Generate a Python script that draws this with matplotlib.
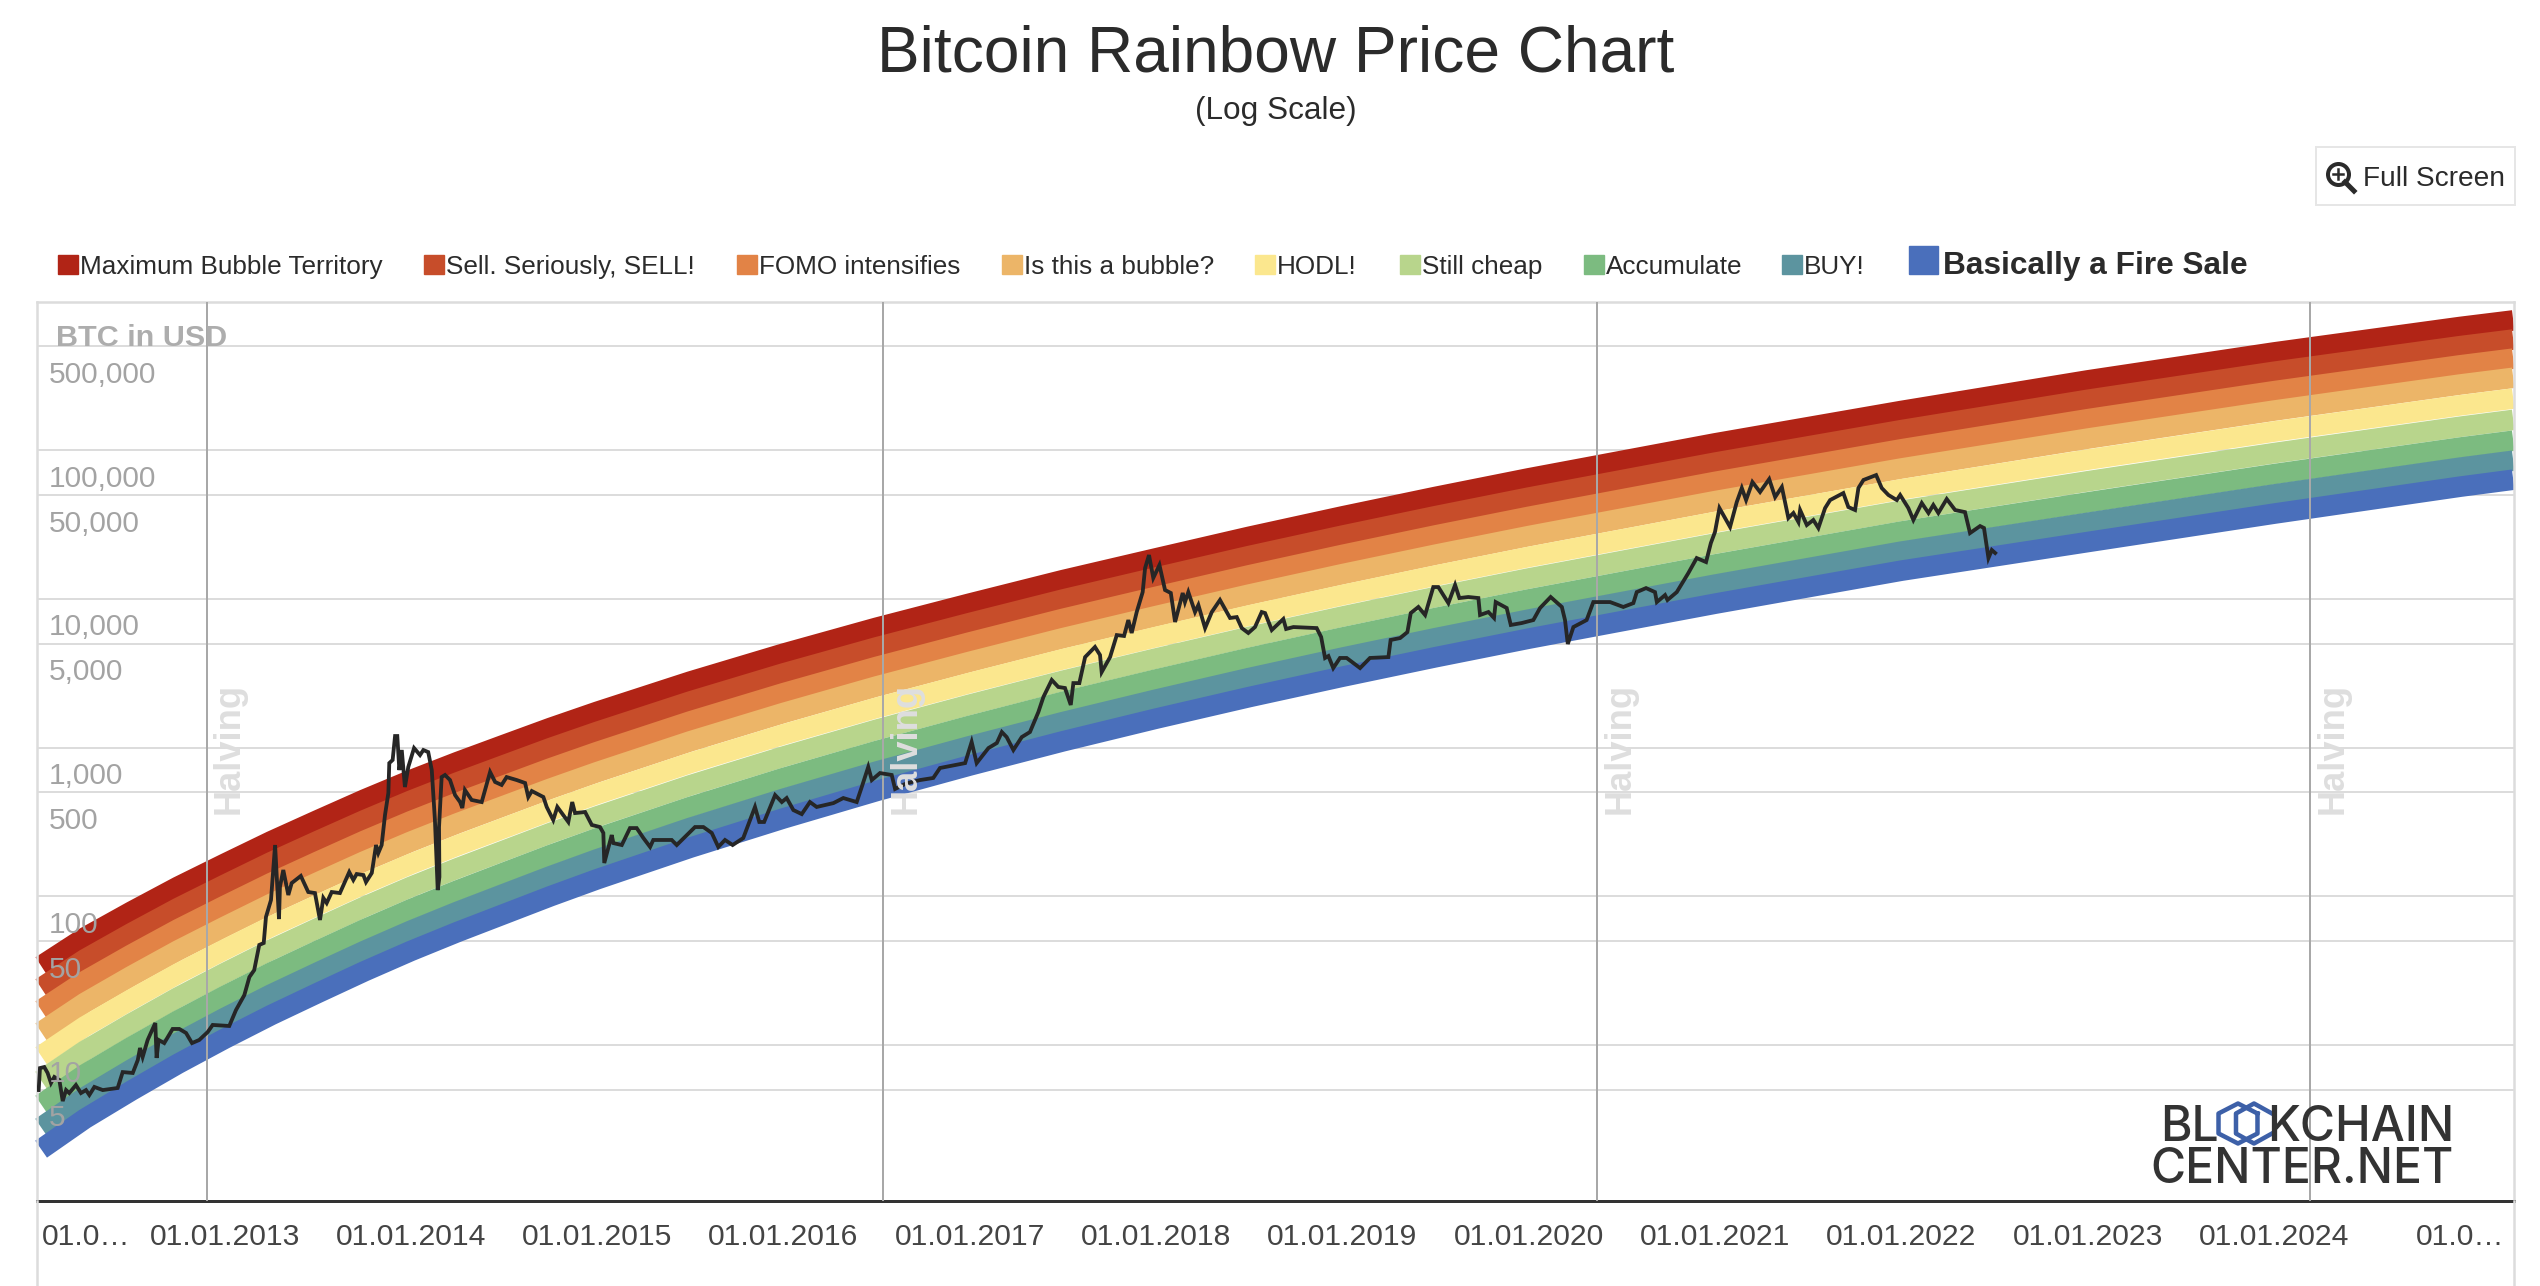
import numpy as np
import matplotlib
matplotlib.use('Agg')
import matplotlib.pyplot as plt
from matplotlib.lines import Line2D
from matplotlib.patches import Rectangle
from matplotlib.ticker import NullLocator

plt.rcParams['font.family'] = ['Liberation Sans', 'DejaVu Sans']

# Values. Years are decimal years, prices are log10(USD)
band_names = ["Maximum Bubble Territory", "Sell. Seriously, SELL!", "FOMO intensifies",
              "Is this a bubble?", "HODL!", "Still cheap", "Accumulate", "BUY!",
              "Basically a Fire Sale"]
band_colors = ["#b12416", "#c74d2a", "#e28346", "#ecb568", "#fbe78e",
               "#b8d58c", "#7cbb80", "#5c949f", "#4a6fbb"]

band_years = [2012.015, 2012.25, 2012.5, 2012.75, 2013, 2013.25, 2013.5, 2013.75, 2014, 2014.25, 2014.5, 2014.75,
              2015, 2015.5, 2016, 2016.5, 2017, 2017.5, 2018, 2018.5, 2019, 2019.5,
              2020, 2021, 2022, 2023, 2024, 2025, 2025.285]
edge_0 = [1.605, 1.795, 1.968, 2.134, 2.288, 2.439, 2.580, 2.719, 2.849, 2.970, 3.085, 3.199,
          3.307, 3.510, 3.697, 3.871, 4.033, 4.190, 4.336, 4.481, 4.618, 4.749,
          4.874, 5.109, 5.327, 5.533, 5.721, 5.892, 5.936]
edge_1 = [1.460, 1.652, 1.827, 1.995, 2.150, 2.302, 2.444, 2.583, 2.714, 2.836, 2.952, 3.067,
          3.175, 3.379, 3.567, 3.742, 3.905, 4.063, 4.210, 4.355, 4.492, 4.623,
          4.748, 4.983, 5.201, 5.406, 5.594, 5.766, 5.810]
edge_2 = [1.309, 1.502, 1.679, 1.848, 2.005, 2.158, 2.301, 2.441, 2.573, 2.696, 2.812, 2.928,
          3.037, 3.242, 3.431, 3.607, 3.771, 3.929, 4.077, 4.222, 4.359, 4.490,
          4.615, 4.850, 5.069, 5.272, 5.461, 5.634, 5.679]
edge_3 = [1.164, 1.359, 1.538, 1.709, 1.867, 2.021, 2.165, 2.306, 2.438, 2.561, 2.678, 2.794,
          2.904, 3.111, 3.301, 3.479, 3.644, 3.803, 3.951, 4.096, 4.233, 4.364,
          4.489, 4.724, 4.943, 5.145, 5.333, 5.508, 5.553]
edge_4 = [1.012, 1.209, 1.390, 1.563, 1.723, 1.878, 2.022, 2.164, 2.297, 2.421, 2.538, 2.655,
          2.766, 2.974, 3.165, 3.344, 3.510, 3.669, 3.818, 3.963, 4.100, 4.231,
          4.356, 4.591, 4.811, 5.011, 5.200, 5.376, 5.421]
edge_5 = [0.843, 1.042, 1.224, 1.399, 1.561, 1.717, 1.862, 2.005, 2.139, 2.264, 2.382, 2.500,
          2.611, 2.820, 3.012, 3.192, 3.360, 3.520, 3.670, 3.815, 3.952, 4.083,
          4.208, 4.443, 4.663, 4.862, 5.051, 5.228, 5.274]
edge_6 = [0.682, 0.883, 1.067, 1.243, 1.407, 1.564, 1.710, 1.854, 1.989, 2.114, 2.233, 2.352,
          2.464, 2.674, 2.868, 3.049, 3.218, 3.379, 3.529, 3.674, 3.811, 3.942,
          4.067, 4.302, 4.523, 4.720, 4.910, 5.088, 5.134]
edge_7 = [0.521, 0.723, 0.909, 1.087, 1.253, 1.411, 1.558, 1.702, 1.838, 1.965, 2.085, 2.204,
          2.317, 2.528, 2.723, 2.905, 3.075, 3.237, 3.388, 3.533, 3.670, 3.801,
          3.926, 4.161, 4.383, 4.578, 4.768, 4.948, 4.994]
edge_8 = [0.372, 0.576, 0.764, 0.944, 1.111, 1.270, 1.418, 1.563, 1.700, 1.827, 1.947, 2.067,
          2.181, 2.393, 2.589, 2.773, 2.944, 3.106, 3.258, 3.403, 3.540, 3.671,
          3.796, 4.031, 4.253, 4.446, 4.637, 4.818, 4.865]
edge_9 = [0.227, 0.433, 0.623, 0.804, 0.973, 1.133, 1.282, 1.428, 1.565, 1.693, 1.814, 1.935,
          2.049, 2.262, 2.459, 2.644, 2.816, 2.979, 3.132, 3.277, 3.414, 3.545,
          3.670, 3.905, 4.127, 4.319, 4.510, 4.692, 4.739]
band_edges = [edge_0, edge_1, edge_2, edge_3, edge_4, edge_5, edge_6, edge_7, edge_8, edge_9]

price_years = [
    2012.002, 2012.009, 2012.032, 2012.050, 2012.068, 2012.086, 2012.113, 2012.131, 2012.149, 2012.166,
    2012.202, 2012.229, 2012.256, 2012.274, 2012.301, 2012.346, 2012.426, 2012.453, 2012.507, 2012.534,
    2012.546, 2012.560, 2012.587, 2012.628, 2012.635, 2012.646, 2012.676, 2012.721, 2012.757, 2012.793,
    2012.825, 2012.864, 2012.909, 2012.936, 2013.025, 2013.061, 2013.106, 2013.133, 2013.159, 2013.186,
    2013.210, 2013.222, 2013.249, 2013.271, 2013.280, 2013.292, 2013.297, 2013.315, 2013.342, 2013.360,
    2013.409, 2013.449, 2013.485, 2013.512, 2013.530, 2013.548, 2013.575, 2013.619, 2013.669, 2013.691,
    2013.709, 2013.745, 2013.759, 2013.790, 2013.813, 2013.825, 2013.843, 2013.861, 2013.879, 2013.884,
    2013.902, 2013.915, 2013.927, 2013.938, 2013.951, 2013.968, 2013.986, 2014.017, 2014.049, 2014.067,
    2014.093, 2014.112, 2014.129, 2014.144, 2014.153, 2014.151, 2014.165, 2014.183, 2014.210, 2014.237,
    2014.264, 2014.276, 2014.290, 2014.326, 2014.380, 2014.425, 2014.452, 2014.487, 2014.514, 2014.568,
    2014.613, 2014.630, 2014.649, 2014.711, 2014.729, 2014.764, 2014.786, 2014.845, 2014.866, 2014.881,
    2014.935, 2014.971, 2015.015, 2015.033, 2015.038, 2015.078, 2015.087, 2015.132, 2015.176, 2015.212,
    2015.248, 2015.284, 2015.301, 2015.400, 2015.427, 2015.525, 2015.570, 2015.615, 2015.650, 2015.686,
    2015.727, 2015.784, 2015.847, 2015.870, 2015.896, 2015.955, 2015.991, 2016.017, 2016.053, 2016.098,
    2016.142, 2016.178, 2016.268, 2016.321, 2016.393, 2016.420, 2016.455, 2016.474, 2016.518, 2016.581,
    2016.599, 2016.652, 2016.690, 2016.733, 2016.804, 2016.840, 2016.975, 2017.010, 2017.037, 2017.100,
    2017.145, 2017.172, 2017.198, 2017.234, 2017.279, 2017.323, 2017.368, 2017.395, 2017.440, 2017.475,
    2017.511, 2017.542, 2017.556, 2017.588, 2017.619, 2017.672, 2017.699, 2017.708, 2017.753, 2017.789,
    2017.828, 2017.851, 2017.869, 2017.896, 2017.928, 2017.941, 2017.962, 2017.985, 2018.018, 2018.048,
    2018.079, 2018.102, 2018.143, 2018.155, 2018.173, 2018.209, 2018.227, 2018.263, 2018.299, 2018.343,
    2018.397, 2018.433, 2018.460, 2018.495, 2018.531, 2018.567, 2018.585, 2018.621, 2018.683, 2018.698,
    2018.737, 2018.862, 2018.886, 2018.907, 2018.925, 2018.951, 2018.987, 2019.023, 2019.095, 2019.148,
    2019.247, 2019.259, 2019.310, 2019.349, 2019.367, 2019.408, 2019.444, 2019.488, 2019.515, 2019.569,
    2019.605, 2019.628, 2019.676, 2019.730, 2019.739, 2019.784, 2019.814, 2019.823, 2019.882, 2019.904,
    2019.963, 2020.025, 2020.061, 2020.118, 2020.178, 2020.195, 2020.210, 2020.240, 2020.311, 2020.347,
    2020.374, 2020.437, 2020.508, 2020.562, 2020.580, 2020.630, 2020.678, 2020.688, 2020.732, 2020.745,
    2020.795, 2020.857, 2020.902, 2020.952, 2020.978, 2021.000, 2021.024, 2021.054, 2021.081, 2021.117,
    2021.144, 2021.167, 2021.201, 2021.242, 2021.291, 2021.323, 2021.359, 2021.394, 2021.421, 2021.448,
    2021.457, 2021.493, 2021.528, 2021.555, 2021.591, 2021.618, 2021.689, 2021.716, 2021.752, 2021.770,
    2021.797, 2021.865, 2021.895, 2021.931, 2021.976, 2021.994, 2022.038, 2022.065, 2022.110, 2022.146,
    2022.172, 2022.199, 2022.244, 2022.289, 2022.342, 2022.369, 2022.423, 2022.444, 2022.468, 2022.486,
    2022.504]
price_log10 = [
    0.697, 0.845, 0.852, 0.812, 0.744, 0.785, 0.765, 0.623, 0.697, 0.677,
    0.731, 0.677, 0.697, 0.664, 0.718, 0.697, 0.711, 0.818, 0.812, 0.899,
    0.980, 0.919, 1.034, 1.148, 0.913, 1.034, 1.013, 1.108, 1.108, 1.081,
    1.013, 1.034, 1.087, 1.135, 1.128, 1.235, 1.336, 1.457, 1.504, 1.673,
    1.686, 1.861, 1.975, 2.345, 2.130, 1.847, 2.063, 2.177, 2.009, 2.089,
    2.137, 2.029, 2.022, 1.841, 1.989, 1.955, 2.029, 2.022, 2.163, 2.110,
    2.150, 2.143, 2.096, 2.157, 2.345, 2.291, 2.345, 2.547, 2.695, 2.896,
    2.917, 3.078, 3.078, 2.849, 2.984, 2.735, 2.870, 2.997, 2.950, 2.984,
    2.970, 2.849, 2.513, 2.042, 2.130, 2.466, 2.802, 2.816, 2.782, 2.681,
    2.634, 2.594, 2.715, 2.648, 2.634, 2.836, 2.769, 2.749, 2.802, 2.782,
    2.762, 2.668, 2.708, 2.668, 2.601, 2.513, 2.601, 2.500, 2.634, 2.560,
    2.567, 2.480, 2.466, 2.426, 2.224, 2.412, 2.358, 2.345, 2.459, 2.459,
    2.392, 2.332, 2.379, 2.379, 2.345, 2.466, 2.466, 2.426, 2.332, 2.379,
    2.345, 2.392, 2.601, 2.500, 2.500, 2.681, 2.634, 2.661, 2.580, 2.553,
    2.634, 2.601, 2.627, 2.661, 2.634, 2.735, 2.870, 2.782, 2.829, 2.816,
    2.722, 2.755, 2.769, 2.782, 2.796, 2.863, 2.896, 3.038, 2.896, 2.997,
    3.031, 3.105, 3.071, 2.984, 3.071, 3.105, 3.239, 3.340, 3.455, 3.408,
    3.401, 3.287, 3.434, 3.434, 3.609, 3.677, 3.623, 3.508, 3.609, 3.757,
    3.751, 3.858, 3.771, 3.912, 4.046, 4.208, 4.295, 4.141, 4.228, 4.060,
    4.040, 3.845, 4.040, 3.979, 4.046, 3.912, 3.959, 3.804, 3.912, 3.993,
    3.872, 3.878, 3.804, 3.771, 3.811, 3.912, 3.905, 3.791, 3.865, 3.798,
    3.811, 3.804, 3.744, 3.603, 3.616, 3.535, 3.603, 3.603, 3.535, 3.603,
    3.609, 3.724, 3.737, 3.777, 3.905, 3.946, 3.892, 4.080, 4.080, 3.972,
    4.094, 4.006, 4.013, 4.006, 3.892, 3.912, 3.872, 3.979, 3.939, 3.825,
    3.838, 3.858, 3.939, 4.013, 3.946, 3.858, 3.697, 3.811, 3.858, 3.979,
    3.979, 3.979, 3.946, 3.972, 4.046, 4.073, 4.046, 3.979, 4.026, 3.993,
    4.046, 4.174, 4.275, 4.248, 4.376, 4.450, 4.611, 4.544, 4.484, 4.652,
    4.746, 4.665, 4.786, 4.719, 4.806, 4.685, 4.753, 4.544, 4.578, 4.517,
    4.598, 4.497, 4.531, 4.477, 4.611, 4.665, 4.712, 4.618, 4.598, 4.746,
    4.800, 4.833, 4.746, 4.699, 4.665, 4.699, 4.611, 4.531, 4.645, 4.578,
    4.632, 4.578, 4.672, 4.598, 4.584, 4.443, 4.490, 4.477, 4.275, 4.329,
    4.309]

halving_years = [2012.903, 2016.536, 2020.367, 2024.195]
y_ticks = [5, 10, 50, 100, 500, 1000, 5000, 10000, 50000, 100000, 500000]
x_ticks = [2012.017] + list(range(2013, 2026))
x_labels = ["01.0\u2026"] + [f"01.01.{y}" for y in range(2013, 2025)] + ["01.0\u2026"]

W, H = 2540, 1286
LEFT, RIGHT, TOP, BOTTOM = 37, 2514, 302, 1200.7
legend_x = [58, 424, 737, 1002, 1255, 1400, 1584, 1782]
GRID = "#dcdcdc"
INK = "#2b2b2b"
LABEL_GREY = "#a3a3a3"


def px(n):
    # screen pixels to points
    return n * 72 / 100


def fx(x):
    return np.asarray(x) / W


def fy(y):
    return 1 - np.asarray(y) / H


def draw_header(fig):
    fig.text(fx(1276), fy(72), "Bitcoin Rainbow Price Chart", fontsize=px(64), color=INK, ha='center', va='baseline')
    fig.text(fx(1276), fy(119), "(Log Scale)", fontsize=px(31.5), color=INK, ha='center', va='baseline')

    # legend row
    for x, name, color in zip(legend_x, band_names[:8], band_colors[:8]):
        fig.add_artist(Rectangle((fx(x), fy(274)), 19.5 / W, 19 / H, color=color, transform=fig.transFigure))
        fig.text(fx(x + 22), fy(274), name, fontsize=px(26.1), color=INK, va='baseline')
    fig.add_artist(Rectangle((fx(1909), fy(274)), 28.5 / W, 28 / H, color=band_colors[8], transform=fig.transFigure))
    fig.text(fx(1943), fy(274), band_names[8], fontsize=px(31.7), color=INK, fontweight='bold', va='baseline')

    # full screen button
    fig.add_artist(Rectangle((fx(2316), fy(205)), 199 / W, 58 / H, facecolor='white', edgecolor='#e6e6e6',
                             linewidth=px(2), transform=fig.transFigure))
    fig.text(fx(2363), fy(186), "Full Screen", fontsize=px(28), color=INK, va='baseline')
    fig.add_artist(Line2D([fx(2337.5)], [fy(174)], marker='o', markersize=px(21), markerfacecolor='none',
                          markeredgecolor=INK, markeredgewidth=px(4), linestyle='none'))
    for xs, ys, lw in [((2345, 2354), (182, 191), 5), ((2332.5, 2342.5), (174, 174), 2.5), ((2337.5, 2337.5), (169, 179), 2.5)]:
        fig.add_artist(Line2D(fx(xs), fy(ys), color=INK, linewidth=px(lw)))


def draw_logo(fig):
    logo = dict(fontsize=px(48), fontweight=500, color="#333333", family='Inter', va='baseline', zorder=5)
    fig.text(fx(2160), fy(1141), "BL", **logo)
    fig.text(fx(2454), fy(1141), "KCHAIN", ha='right', **logo)
    fig.text(fx(2454), fy(1183), "CENTER.NET", ha='right', **logo)
    # two linked hexagons stand in for the O and the C
    for cx, rx, start, stop in [(2238, 22.5, 30, 391), (2254, 20.8, 30, 331)]:
        angles = np.radians(np.arange(start, stop, 60))
        xs = cx + rx * np.cos(angles)
        ys = 1123.5 - 20 * np.sin(angles)
        fig.add_artist(Line2D(fx(xs), fy(ys), color="#3d60a8", linewidth=px(4.5), zorder=5))


def plot_chart():
    fig = plt.figure(figsize=(W / 100, H / 100), dpi=100, facecolor='white')
    ax = fig.add_axes([fx(LEFT), fy(BOTTOM), (RIGHT - LEFT) / W, (BOTTOM - TOP) / H])
    ax.set_yscale('log')
    ax.set_xlim(2011.993, 2025.289)
    ax.set_ylim(10 ** -0.047, 10 ** 5.997)

    ax.set_yticks(y_ticks)
    ax.set_yticklabels([])
    ax.yaxis.set_minor_locator(NullLocator())
    ax.set_xticks(x_ticks)
    ax.set_xticklabels(x_labels)
    ax.tick_params(length=0)
    ax.tick_params(axis='x', pad=px(22.5), labelsize=px(30.1), labelcolor="#444444")
    ax.get_xticklabels()[0].set_ha('left')
    ax.grid(axis='y', color=GRID, linewidth=px(2))
    ax.set_axisbelow(True)

    for side in ('left', 'right', 'top'):
        ax.spines[side].set_color(GRID)
        ax.spines[side].set_linewidth(px(2.5))
    ax.spines['bottom'].set_color("#333333")
    ax.spines['bottom'].set_linewidth(px(3))

    # the frame runs on below the axis, down to the edge of the picture
    for x in (LEFT, RIGHT):
        fig.add_artist(Line2D([fx(x), fx(x)], [fy(BOTTOM), 0], color=GRID, linewidth=px(2.5)))

    # bands are thick lines with square ends, so their ends sit slanted
    edges = np.array(band_edges)
    for i, color in enumerate(band_colors):
        centre = 10 ** ((edges[i] + edges[i + 1]) / 2)
        ax.plot(band_years, centre, color=color, linewidth=px(20.6), solid_capstyle='butt', zorder=2, clip_on=False)

    for year in halving_years:
        ax.axvline(year, color="#a8a8a8", linewidth=px(2), zorder=3)
        ax.annotate("Halving", xy=(year, 0.4303), xycoords=('data', 'axes fraction'),
                    xytext=(px(23), 0), textcoords='offset points', rotation=90,
                    ha='center', va='bottom', fontsize=px(36.3), fontweight='bold', color="#dedede", zorder=6)

    ax.plot(price_years, 10 ** np.array(price_log10), color="#262626", linewidth=px(3.8), zorder=4,
            solid_joinstyle='miter')

    # value labels sit inside the plot, just under their grid lines
    for value in y_ticks:
        ax.annotate(f"{value:,}", xy=(0, value), xycoords=('axes fraction', 'data'),
                    xytext=(px(11.5), px(-36.5)), textcoords='offset points', va='baseline',
                    fontsize=px(29.8), color=LABEL_GREY, zorder=6)
    fig.text(fx(56), fy(346), "BTC in USD", fontsize=px(30.5), fontweight='bold', color="#adadad", va='baseline', zorder=6)

    draw_header(fig)
    draw_logo(fig)
    fig.savefig("out.png", dpi=100)
    plt.close(fig)


plot_chart()
